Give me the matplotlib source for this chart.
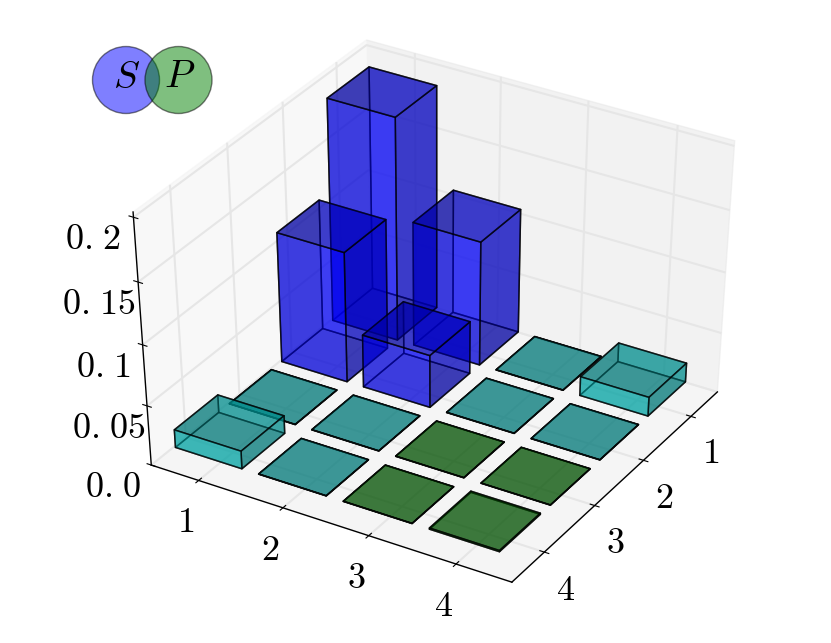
#!/usr/bin/env python3

from matplotlib import pyplot as plt
from matplotlib.patches import Circle

import numpy as np

plt.rcParams['mathtext.fontset'] = 'cm'

ticks = [1, 2, 3, 4]
xtick_labels = [r'$1$', r'$2$', r'$3$', r'$4$']
ytick_labels = [r'$1$', r'$2$', r'$3$', r'$4$']
zticks = [0.0, 0.05, 0.1, 0.15, 0.2]
ztick_labels = [r'$0.\hspace{0.1}0$', r'$0.\hspace{0.1}05$', r'$0.\hspace{0.1}1$',
                r'$0.\hspace{0.1}15$', r'$0.\hspace{0.1}2$']

# one row per y tick, one column per x tick
heights = [
        [0.183, 0.103, 0.0002, 0.016],
        [0.108, 0.044, 0.0002, 0.0002],
        [0.0002, 0.0002, 0.0002, 0.0002],
        [0.015, 0.0002, 0.0002, 0.001],
        ]
colors = [
        ['b', 'b', 'c', 'c'],
        ['b', 'b', 'c', 'c'],
        ['c', 'c', 'g', 'g'],
        ['c', 'c', 'g', 'g'],
        ]
base = {'b': (0, 0, 1), 'c': (0, 0.75, 0.75), 'g': (0, 0.5, 0)}
# bottom, top, -y, +y, -x, +x
shades = [0.63, 0.63, 0.95, 0.95, 0.63, 0.63]

fig = plt.figure(figsize=(8.31, 6.43), dpi=100)
ax = fig.add_axes([11 / 831, 7 / 643, 1, 1], projection='3d')
# old mplot3d look: the cube is stretched to fill the whole axes rectangle
ax.apply_aspect = lambda position=None: None
ax.set_box_aspect((1, 1, 1), zoom=0.86)
ax.view_init(elev=40, azim=-59)

xs, ys = np.meshgrid(ticks, ticks)
dz = np.array(heights).ravel()
face_colors = []
for row in colors:
    for c in row:
        for s in shades:
            face_colors.append((base[c][0] * s, base[c][1] * s, base[c][2] * s, 0.5))
ax.bar3d(xs.ravel() - 0.55, ys.ravel() - 0.58, np.zeros(16), 0.8, 0.8, dz,
         color=face_colors, shade=False, edgecolor=(0, 0, 0, 0.7), linewidth=1.1)

ax.set_xlim(0.43, 4.63)
ax.set_ylim(4.63, 0.43)
ax.set_zlim(0, 0.204)

ax.set_xticks(ticks, xtick_labels)
ax.set_yticks(ticks, ytick_labels)
ax.set_zticks(zticks, ztick_labels)
ax.tick_params(labelsize=26)
ax.tick_params(axis='x', pad=8)
ax.tick_params(axis='y', pad=8)
ax.tick_params(axis='z', pad=10)
ax.zaxis.set_ticks_position('upper')
ax.zaxis.set_label_position('upper')

for axis, pane in zip((ax.xaxis, ax.yaxis, ax.zaxis), (0.95, 0.90, 0.925)):
    axis.set_pane_color((pane, pane, pane, 0.5))
    axis.line.set_color('black')
    axis.line.set_linewidth(1.0)
    axis._axinfo['grid'].update(color=(0.9, 0.9, 0.9, 1), linewidth=1.5)
    axis._axinfo['tick'].update(inward_factor=0.15, outward_factor=0.15)

venn = fig.add_axes([80 / 831, 1 - 130 / 643, 150 / 831, 100 / 643])
venn.set_xlim(80, 230)
venn.set_ylim(130, 30)
venn.axis('off')
venn.add_patch(Circle((126, 80), 33.5, facecolor='b', alpha=0.5, edgecolor='black', linewidth=1))
venn.add_patch(Circle((178.5, 80), 33.5, facecolor='g', alpha=0.5, edgecolor='black', linewidth=1))
venn.text(127, 77, r'$S$', fontsize=28, ha='center', va='center')
venn.text(180, 76, r'$P$', fontsize=28, ha='center', va='center')

plt.savefig('out.png', dpi=100)
